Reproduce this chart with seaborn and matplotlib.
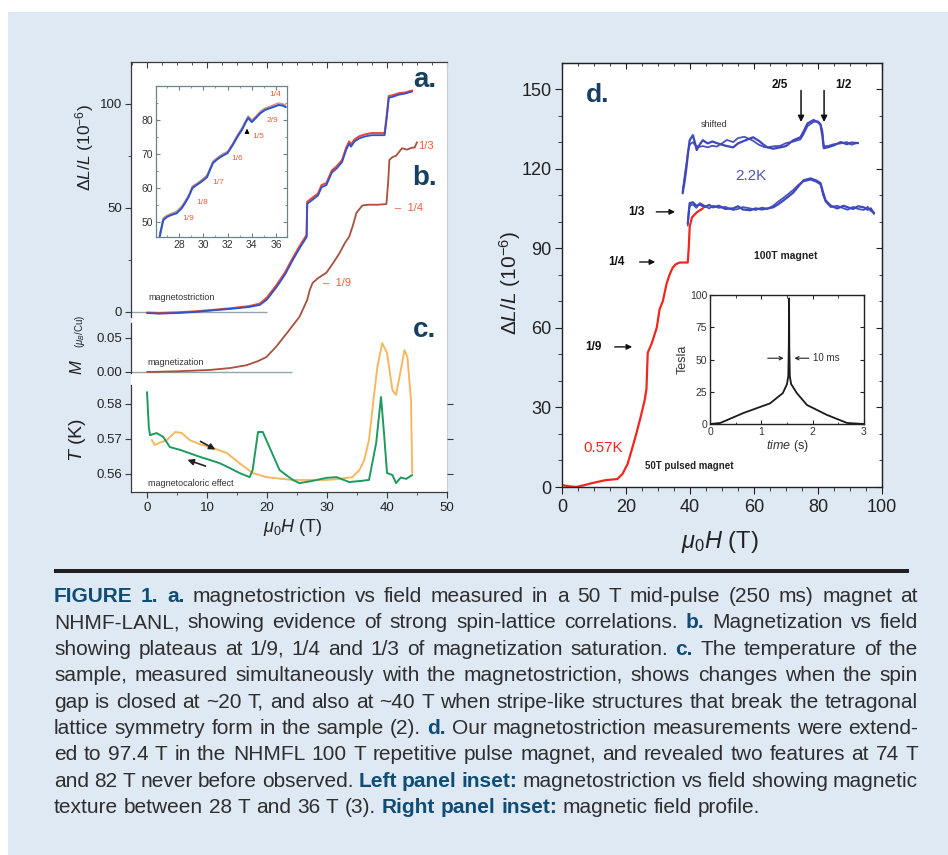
import matplotlib
matplotlib.use("Agg")
import matplotlib.pyplot as plt
import matplotlib.ticker as mticker
from matplotlib.patches import Rectangle
import seaborn as sns

# ---------------- data ----------------
# panel a: magnetostriction dL/L (1e-6) vs field (T), two sweeps
a_field = [0, 2, 5, 8, 11, 14, 17, 18.8, 20, 21.6, 23, 24.3, 25.5, 26.6, 26.7, 27.6, 28.5,
           29.1, 29.9, 30.8, 31.6, 32.5, 33.2, 33.7, 34.0, 34.6, 35.4, 36.5, 37.5, 38.7,
           39.6, 39.9, 40.3, 40.9, 42.0, 43.0, 44.2]
a_up = [-0.5, -0.8, -0.5, 0.0, 0.8, 1.5, 2.4, 3.4, 6, 12, 18, 25, 31, 36, 52, 54, 56,
        60, 61, 67, 69, 72, 78, 81, 79.5, 82, 83.5, 84.5, 85, 85, 85, 92, 103, 103.4,
        104.5, 105, 106]
a_down = [-0.3, -0.5, -0.2, 0.3, 1.0, 1.8, 2.8, 4.0, 7, 13, 19, 26, 32, 37, 53, 55, 57,
          61, 62, 68, 70, 73, 79, 82, 80.5, 83, 84.5, 85.5, 86, 86, 86, 93, 103.8, 104.2,
          105.2, 105.5, 106.5]

# panel b: magnetization M (muB/Cu) vs field (T)
b_field = [0, 5, 10.5, 14, 16.6, 18.5, 19.9, 21.5, 23.3, 25.4, 26.7, 27.1, 27.6, 28.5,
           29.9, 31.0, 32.1, 33.0, 33.7, 34.3, 34.9, 35.9, 37.0, 38.5, 39.9, 40.2, 40.4,
           40.9, 41.5, 42.5, 43.3, 44.2, 44.6, 45.0]
b_M = [0, 0.001, 0.003, 0.006, 0.010, 0.016, 0.022, 0.037, 0.057, 0.081, 0.106, 0.120,
       0.131, 0.138, 0.146, 0.160, 0.175, 0.190, 0.199, 0.215, 0.234, 0.245, 0.246,
       0.246, 0.247, 0.280, 0.312, 0.316, 0.318, 0.329, 0.327, 0.330, 0.330, 0.338]

# panel c: sample temperature T (K) vs field (T)
c_up_field = [0.8, 1.3, 2.2, 3.3, 4.7, 5.8, 7.1, 8.8, 10.5, 12, 13.3, 15.4, 17.6, 19.9,
              22, 24.3, 27, 29.9, 32, 34.2, 35.4, 36.2, 37.0, 37.8, 38.4, 39.2, 40.0,
              40.9, 41.5, 42.4, 42.9, 43.4, 44.0, 44.2]
c_up_T = [0.5697, 0.5683, 0.5690, 0.5697, 0.5720, 0.5717, 0.5697, 0.5685, 0.5677,
          0.5668, 0.5660, 0.5631, 0.5603, 0.5591, 0.5587, 0.5583, 0.5583, 0.5583,
          0.5586, 0.5591, 0.5611, 0.5640, 0.5697, 0.5820, 0.5906, 0.5974, 0.5946,
          0.5840, 0.5826, 0.5906, 0.5954, 0.5934, 0.5811, 0.5603]
c_down_field = [0, 0.3, 0.5, 1.6, 2.7, 3.8, 5.5, 7, 8.8, 10.5, 12.1, 13.8, 15.4, 17.1,
                17.6, 18.5, 19.3, 20.4, 22.1, 24.3, 25.4, 27.5, 29.9, 31.6, 33.7, 35.5,
                37.0, 38.2, 39.0, 39.5, 40.0, 40.9, 41.5, 42.3, 43.2, 44.2]
c_down_T = [0.5834, 0.5734, 0.5711, 0.5717, 0.5706, 0.5677, 0.5669, 0.5660, 0.5649,
            0.5640, 0.5631, 0.5617, 0.5603, 0.5591, 0.5611, 0.5720, 0.5720, 0.5677,
            0.5611, 0.5583, 0.5574, 0.5580, 0.5589, 0.5591, 0.5577, 0.5580, 0.5583,
            0.5689, 0.5820, 0.5717, 0.5603, 0.5597, 0.5574, 0.5590, 0.5586, 0.5597]

# left inset: magnetostriction 26-37 T
li_field = [26.4, 26.7, 27.0, 27.3, 27.8, 28.2, 28.5, 28.8, 29.1, 29.4, 29.7, 30.0, 30.3,
            30.8, 31.1, 31.4, 32.0, 32.4, 32.8, 33.2, 33.5, 33.7, 34.0, 34.3, 34.7, 35.1,
            35.5, 35.9, 36.2, 36.5, 36.8]
li_up = [45.6, 50.6, 51.5, 52.0, 52.6, 54.0, 55.6, 57.5, 60.0, 60.8, 61.5, 62.3, 63.2,
         67.4, 68.3, 69.1, 70.3, 72.5, 75.0, 77.2, 79.4, 80.6, 79.4, 80.5, 82.0, 83.0,
         83.5, 84.0, 84.4, 84.3, 83.8]
li_down = [46.5, 51.2, 52.0, 52.4, 53.2, 54.6, 56.2, 58.0, 60.6, 61.2, 62.0, 62.8, 63.8,
           67.9, 68.8, 69.6, 70.8, 73.0, 75.6, 77.8, 79.9, 81.2, 80.0, 81.0, 82.6, 83.5,
           84.0, 84.6, 85.0, 84.8, 84.4]

# panel d: 0.57 K, 50 T pulsed magnet
d_red_field = [0, 2, 4.4, 7, 9.5, 13.7, 17.3, 18.9, 20.5, 21.8, 23.2, 24.5, 25.8, 26.4,
               26.6, 26.8, 28, 29.6, 30.5, 31.5, 32.7, 33.6, 34.6, 35.6, 36.8, 38, 39.3,
               39.6, 39.9, 40.6, 42.1, 44]
d_red = [0.7, 0.3, 0, 0.7, 1.5, 2.6, 3.0, 4.9, 8.7, 14, 20, 26, 32.5, 37, 44, 50.6, 54,
         60, 67, 70, 76.7, 80, 82.7, 84, 84.6, 84.6, 84.6, 90, 98, 101.6, 103.5, 105]
# panel d: 2.2 K, 100 T magnet (two sweeps)
d_blue_field = [39.3, 39.6, 39.9, 40.9, 42, 43.1, 44.5, 46, 47.2, 49, 51, 53.5, 55, 56.5,
                58.8, 60.5, 62.5, 64.2, 66, 67.5, 69.2, 70.8, 72.3, 74, 75.5, 77.7, 79.5,
                80.8, 81.6, 82.4, 84, 86, 88, 89.3, 91, 92.5, 94.3, 95.5, 96.5, 97.5]
d_blue_up = [99.3, 103, 107, 107.3, 106, 106.5, 105.5, 106.3, 105.4, 106, 104.8, 105,
             105.8, 104.6, 104.3, 105, 104.6, 105, 105.4, 106.5, 108, 109.5, 111, 113.5,
             115.6, 116.3, 115.5, 114.5, 111, 108, 106, 105, 106, 105.4, 104.8, 105.8,
             105.4, 104.5, 105, 103]
d_blue_down = [98.5, 104, 106, 106.5, 105.2, 107, 106, 105, 106, 105.2, 105.6, 104.4,
               104.8, 105.5, 105, 104.4, 105.3, 104.8, 106, 107.5, 109, 110.5, 112, 114,
               115.2, 115.8, 115, 114, 110, 107.5, 105.5, 106, 105, 104.5, 105.6, 104.8,
               104.4, 105.6, 104, 103.5]
# panel d: shifted copy of the 2.2 K sweeps
d_shift_field = [37.7, 38.3, 38.9, 39.4, 39.9, 40.9, 41.5, 42.1, 43, 44, 45.5, 47, 48.4,
                 50, 51.5, 53.5, 55, 57, 59.7, 61.5, 63, 64.2, 66, 68.2, 70, 72.3, 74.5,
                 75.5, 76.7, 78.6, 80, 80.8, 81.4, 81.8, 83, 85, 87.1, 89, 90.5, 92.5]
d_shift_up = [110.7, 115, 120.5, 126, 130.7, 132.6, 130, 127, 129, 130.7, 129.5, 130.2,
              129.6, 129, 128.5, 128, 129.5, 130.5, 131.8, 130.5, 129, 128, 127.5, 128,
              128.5, 130.7, 131.8, 134, 137, 138.3, 137.5, 136.4, 132, 127.7, 128, 128.8,
              130, 129.2, 129.8, 129.6]
d_shift_down = [111.5, 117, 122, 126.5, 129, 130, 129, 128.5, 128.2, 128.5, 128, 128.6,
                128.3, 129.5, 130.8, 130, 131.5, 132, 130.5, 129, 128.2, 128, 128.4,
                128.6, 129.6, 130.2, 131, 133, 136, 137.6, 137.8, 136.8, 134, 128.5,
                128.5, 129.2, 129.5, 130, 129, 129.8]

# right inset: 100 T pulse profile
pulse_t = [0, 0.2, 0.65, 1.17, 1.42, 1.50, 1.525, 1.535, 1.54, 1.545, 1.555, 1.58, 1.69,
           1.89, 2.28, 2.67, 3.0]
pulse_B = [0, 0.8, 8.5, 16, 24, 31, 37, 60, 97.4, 60, 37, 31, 24, 14.7, 7, 0.8, 0]

left_x_ticks = [0, 10, 20, 30, 40, 50]
a_ticks = [0, 50, 100]
m_ticks = [0.00, 0.05]
t_ticks = [0.56, 0.57, 0.58]
d_x_ticks = [0, 20, 40, 60, 80, 100]
d_y_ticks = [0, 30, 60, 90, 120, 150]
li_x_ticks = [28, 30, 32, 34, 36]
li_y_ticks = [50, 60, 70, 80]
ri_x_ticks = [0, 1, 2, 3]
ri_y_ticks = [0, 25, 50, 75, 100]

caption_lines = [
    [("FIGURE  1. a.", True), (" magnetostriction vs field measured in a 50 T mid-pulse (250 ms) magnet at", False)],
    [("NHMF-LANL, showing evidence of strong spin-lattice correlations. ", False), ("b.", True), (" Magnetization vs field", False)],
    [("showing plateaus at 1/9, 1/4 and 1/3 of magnetization saturation. ", False), ("c.", True), (" The temperature of the", False)],
    [("sample, measured simultaneously with the magnetostriction, shows changes when the spin", False)],
    [("gap is closed at ~20 T, and also at ~40 T when stripe-like structures that break the tetragonal", False)],
    [("lattice symmetry form in the sample (2). ", False), ("d.", True), (" Our magnetostriction measurements were extend-", False)],
    [("ed to 97.4 T in the NHMFL 100 T repetitive pulse magnet, and revealed two features at 74 T", False)],
    [("and 82 T never before observed. ", False), ("Left panel inset:", True), (" magnetostriction vs field showing magnetic", False)],
    [("texture between 28 T and 36 T (3). ", False), ("Right panel inset:", True), (" magnetic field profile.", False)],
]

# ---------------- style ----------------
sns.set_style("ticks")
plt.rcParams['font.family'] = ['Liberation Sans', 'DejaVu Sans']
plt.rcParams['mathtext.fontset'] = 'custom'
plt.rcParams['mathtext.rm'] = 'Liberation Sans'
plt.rcParams['mathtext.it'] = 'Liberation Sans:italic'
plt.rcParams['mathtext.bf'] = 'Liberation Sans:bold'

W, H = 948, 855
BG = '#dfe9f4'
NAVY = '#173f5f'
CAP_BOLD = '#0f4d76'
CAP_TEXT = '#2e2e2e'
RED_LBL = '#e8603f'

fig = plt.figure(figsize=(W / 100, H / 100), dpi=100)
fig.patch.set_facecolor('white')
fig.add_artist(Rectangle((8 / W, 0), 1 - 8 / W, 1 - 12 / H, transform=fig.transFigure,
                         facecolor=BG, edgecolor='none', zorder=-10))


def box(x0, y0, x1, y1):
    return [x0 / W, 1 - y1 / H, (x1 - x0) / W, (y1 - y0) / H]


def ftext(px, py, s, **kw):
    kw.setdefault('ha', 'center')
    kw.setdefault('va', 'center')
    return fig.text(px / W, 1 - py / H, s, **kw)


def line(ax, x, y, color, lw, **kw):
    sns.lineplot(x=x, y=y, ax=ax, color=color, lw=lw, sort=False, estimator=None, **kw)


# ---------------- left panel (a, b, c) ----------------
LB = box(131, 62, 447, 492)
axA = fig.add_axes(LB, zorder=1)
axA.set_facecolor('white')
axM = fig.add_axes(LB, zorder=2)
axM.set_facecolor('none')
axT = fig.add_axes(LB, zorder=3)
axT.set_facecolor('none')
XL = (-2.67, 50)

line(axA, a_field, a_down, '#e8483a', 1.5)
line(axA, a_field, a_up, '#3252cc', 1.3)
axA.hlines(0, XL[0], 20, color='#93a6aa', lw=1.0, zorder=0)
line(axM, b_field, b_M, '#a9503e', 1.3)
axM.hlines(0, XL[0], 24.2, color='#93a6aa', lw=1.0, zorder=0)
line(axT, c_up_field, c_up_T, '#f5b860', 1.4)
line(axT, c_down_field, c_down_T, '#1f9a5e', 1.4)

for ax in (axA, axM, axT):
    ax.set_xlim(*XL)
    ax.set_xlabel('')
    ax.set_ylabel('')
axA.set_ylim(-86.54, 120.19)
axM.set_ylim(-0.1765, 0.4559)
axT.set_ylim(0.554857, 0.677714)

SPC = '#3a3a3a'
LTS = 9.5
# axA
axA.spines['bottom'].set_visible(False)
axA.spines['left'].set_bounds(-2.4, 120.19)
axA.spines['right'].set_color('#c9cfd2')
for s in ('left', 'top'):
    axA.spines[s].set_color(SPC)
    axA.spines[s].set_linewidth(0.9)
axA.set_yticks(a_ticks)
axA.yaxis.set_minor_locator(mticker.FixedLocator([25, 75]))
axA.xaxis.set_major_locator(mticker.MultipleLocator(10))
axA.xaxis.set_minor_locator(mticker.MultipleLocator(2.5))
axA.tick_params(axis='x', which='both', bottom=False, labelbottom=False, top=True,
                direction='in', color=SPC)
axA.tick_params(axis='x', which='major', length=4)
axA.tick_params(axis='x', which='minor', length=2.5)
axA.tick_params(axis='y', which='both', left=True, right=False, direction='out',
                labelsize=LTS, color=SPC, labelcolor='#222', pad=2.5)
axA.tick_params(axis='y', which='major', length=4)
axA.tick_params(axis='y', which='minor', length=2.5)
# axM
for s in ('bottom', 'top', 'right'):
    axM.spines[s].set_visible(False)
axM.spines['left'].set_bounds(-0.0015, 0.072)
axM.spines['left'].set_color(SPC)
axM.spines['left'].set_linewidth(0.9)
axM.set_yticks(m_ticks)
axM.yaxis.set_major_formatter(mticker.FormatStrFormatter('%.2f'))
axM.tick_params(axis='x', which='both', bottom=False, labelbottom=False)
axM.tick_params(axis='y', direction='out', length=4, labelsize=LTS, color=SPC,
                labelcolor='#222', pad=2.5)
# axT
axT.spines['top'].set_visible(False)
axT.spines['right'].set_visible(False)
axT.spines['left'].set_bounds(0.554857, 0.5854)
for s in ('left', 'bottom'):
    axT.spines[s].set_color(SPC)
    axT.spines[s].set_linewidth(0.9)
axT.set_yticks(t_ticks)
axT.yaxis.set_major_formatter(mticker.FormatStrFormatter('%.2f'))
axT.set_xticks(left_x_ticks)
axT.xaxis.set_minor_locator(mticker.MultipleLocator(5))
axT.tick_params(axis='y', direction='out', length=4, labelsize=LTS, right=True,
                color=SPC, labelcolor='#222', pad=2.5)
axT.tick_params(axis='x', which='both', direction='out', labelsize=LTS, color=SPC, labelcolor='#222')
axT.tick_params(axis='x', which='major', length=4)
axT.tick_params(axis='x', which='minor', length=2.5)

# left inset
axL = fig.add_axes(box(156, 86, 287, 237), zorder=5)
axL.set_facecolor('white')
line(axL, li_field, li_down, '#d98a80', 1.0)
line(axL, li_field, li_up, '#2f55c8', 1.5)
axL.set_xlim(26.1, 36.9)
axL.set_ylim(45.6, 90)
axL.set_xlabel('')
axL.set_ylabel('')
axL.set_xticks(li_x_ticks)
axL.set_yticks(li_y_ticks)
axL.xaxis.set_minor_locator(mticker.MultipleLocator(1))
axL.yaxis.set_minor_locator(mticker.MultipleLocator(5))
axL.tick_params(which='both', direction='in', top=True, right=True, labelsize=7.5,
                color='#6a8585', labelcolor='#333', pad=2)
axL.tick_params(which='major', length=3)
axL.tick_params(which='minor', length=1.5)
for s in axL.spines.values():
    s.set_color('#6a8585')
    s.set_linewidth(0.9)
for lbl, px, py in [("1/9", 188, 219), ("1/8", 202, 202), ("1/7", 218, 183), ("1/6", 237, 158),
                    ("1/5", 258, 137), ("2/9", 272, 121), ("1/4", 275, 94)]:
    ftext(px, py, lbl, fontsize=6, color=RED_LBL, zorder=10)
axL.annotate('', xy=(33.6, 78.3), xytext=(33.6, 75.2),
             arrowprops=dict(arrowstyle='-|>', color='black', lw=0.9, mutation_scale=6))

# left panel texts
ftext(425, 80, "a.", fontsize=20, fontweight='bold', color=NAVY)
ftext(425, 178, "b.", fontsize=20, fontweight='bold', color=NAVY)
ftext(425, 330, "c.", fontsize=20, fontweight='bold', color=NAVY)
ftext(148, 297, "magnetostriction", fontsize=6.5, ha='left', color='#333', zorder=10)
ftext(147, 362, "magnetization", fontsize=6.5, ha='left', color='#333', zorder=10)
ftext(148, 484, "magnetocaloric effect", fontsize=6.5, ha='left', color='#333', zorder=10)
ftext(418, 146, "1/3", fontsize=8, ha='left', color=RED_LBL, zorder=10)
ftext(395, 208, "–  1/4", fontsize=8, ha='left', color=RED_LBL, zorder=10)
ftext(323, 283, "–  1/9", fontsize=8, ha='left', color=RED_LBL, zorder=10)
axT.annotate('', xy=(11.8, 0.5666), xytext=(8.5, 0.5697),
             arrowprops=dict(arrowstyle='-|>', color='#222', lw=1.2, mutation_scale=9))
axT.annotate('', xy=(6.3, 0.5643), xytext=(10.2, 0.5620),
             arrowprops=dict(arrowstyle='-|>', color='#222', lw=1.2, mutation_scale=9))

ftext(85, 148, r"$\mathit{\Delta L/L}$ (10$^{-6}$)", rotation=90, fontsize=12.5, color='#222')
ftext(77, 367, r"$M$", rotation=90, fontsize=12, color='#222')
ftext(80, 331, r"($\mu_B$/Cu)", rotation=90, fontsize=7, color='#222')
ftext(77, 440, r"$T$ (K)", rotation=90, fontsize=14, color='#222')
ftext(293, 527, r"$\mu_0H$ (T)", fontsize=13, color='#222')

# ---------------- right panel (d) ----------------
axD = fig.add_axes(box(562, 63, 882, 487), zorder=1)
axD.set_facecolor('white')
line(axD, d_shift_field, d_shift_down, '#4a53c2', 1.3)
line(axD, d_shift_field, d_shift_up, '#3f48bb', 1.6)
line(axD, d_blue_field, d_blue_down, '#4a53c2', 1.3)
line(axD, d_blue_field, d_blue_up, '#3f48bb', 1.6)
line(axD, d_red_field, d_red, '#f0281c', 1.6)
axD.set_xlim(0, 100)
axD.set_ylim(0, 159.8)
axD.set_xlabel('')
axD.set_ylabel('')
axD.set_xticks(d_x_ticks)
axD.set_yticks(d_y_ticks)
axD.xaxis.set_minor_locator(mticker.MultipleLocator(5))
axD.yaxis.set_minor_locator(mticker.MultipleLocator(10))
axD.tick_params(which='both', direction='out', labelsize=13, color='#222', labelcolor='#222')
axD.tick_params(which='major', length=5)
axD.tick_params(which='minor', length=3)
axD.tick_params(axis='y', pad=2.5)
for s in axD.spines.values():
    s.set_color('#222')
    s.set_linewidth(1.0)
secx = axD.secondary_xaxis('top')
secx.set_xticks(d_x_ticks)
secx.xaxis.set_minor_locator(mticker.MultipleLocator(5))
secx.tick_params(which='both', direction='in', labeltop=False, color='#222')
secx.tick_params(which='major', length=4)
secx.tick_params(which='minor', length=2.5)
secy = axD.secondary_yaxis('right')
secy.set_yticks(d_y_ticks)
secy.yaxis.set_minor_locator(mticker.MultipleLocator(10))
secy.tick_params(which='both', direction='in', labelright=False, color='#222')
secy.tick_params(which='major', length=4)
secy.tick_params(which='minor', length=2.5)

axD.text(11.2, 147.8, "d.", fontsize=19, fontweight='bold', color=NAVY, ha='center', va='center')
axD.text(47.5, 136.8, "shifted", fontsize=6.5, color='#333', ha='center', va='center')
axD.text(59, 117.2, "2.2K", fontsize=11, color='#5055b8', ha='center', va='center')
axD.text(68.1, 151.5, "2/5", fontsize=8.5, fontweight='bold', color='#111', ha='center', va='center')
axD.text(87.8, 151.5, "1/2", fontsize=8.5, fontweight='bold', color='#111', ha='center', va='center')
for hx in (74.7, 81.9):
    axD.annotate('', xy=(hx, 136.5), xytext=(hx, 150.5),
                 arrowprops=dict(arrowstyle='-|>', color='#111', lw=1.1, mutation_scale=9))
for lbl, tx, ty, x0, x1 in [("1/3", 23.4, 103.7, 28.6, 36.2), ("1/4", 16.9, 84.8, 23.4, 30.0),
                            ("1/9", 9.7, 52.8, 15.6, 22.8)]:
    axD.text(tx, ty, lbl, fontsize=8.5, fontweight='bold', color='#111', ha='center', va='center')
    axD.annotate('', xy=(x1, ty), xytext=(x0, ty),
                 arrowprops=dict(arrowstyle='-|>', color='#111', lw=1.0, mutation_scale=8))
axD.text(70, 87, "100T magnet", fontsize=7.5, fontweight='bold', color='#222', ha='center', va='center')
axD.text(12.8, 14.7, "0.57K", fontsize=11, color='#f0281c', ha='center', va='center')
axD.text(39.7, 7.9, "50T pulsed magnet", fontsize=7, fontweight='bold', color='#222', ha='center', va='center')

ftext(720, 542, r"$\mu_0H$ (T)", fontsize=17, color='#222')
ftext(510, 283, r"$\mathit{\Delta L/L}$ (10$^{-6}$)", rotation=90, fontsize=15, color='#222')

# right inset
axI = fig.add_axes(box(710, 295, 864, 424), zorder=5)
axI.set_facecolor('white')
line(axI, pulse_t, pulse_B, '#1a1a1a', 1.3)
axI.set_xlim(0, 3)
axI.set_ylim(0, 100)
axI.set_xticks(ri_x_ticks)
axI.set_yticks(ri_y_ticks)
axI.xaxis.set_minor_locator(mticker.MultipleLocator(0.5))
axI.tick_params(which='both', direction='in', top=True, right=True, labelsize=7.5,
                color='#222', labelcolor='#333', pad=2)
axI.tick_params(which='major', length=3)
axI.tick_params(which='minor', length=1.8)
for s in axI.spines.values():
    s.set_color('#222')
    s.set_linewidth(1.0)
axI.set_xlabel(r"$time$ (s)", fontsize=9, labelpad=1, color='#333')
axI.set_ylabel("Tesla", fontsize=9, labelpad=1, color='#333')
axI.annotate('', xy=(1.49, 51), xytext=(1.07, 51),
             arrowprops=dict(arrowstyle='->', color='#222', lw=0.8, mutation_scale=6))
axI.annotate('', xy=(1.59, 51), xytext=(1.98, 51),
             arrowprops=dict(arrowstyle='->', color='#222', lw=0.8, mutation_scale=6))
axI.text(2.0, 51, "10 ms", fontsize=7, color='#333', ha='left', va='center')

# ---------------- separator and caption ----------------
fig.add_artist(Rectangle((54 / W, 1 - 573 / H), (909 - 54) / W, 4 / H, transform=fig.transFigure,
                         facecolor='#231f20', edgecolor='none'))

renderer = fig.canvas.get_renderer()
CAP_FONT = ['Liberation Sans', 'DejaVu Sans']


def measure(s, fs, bold):
    t = fig.text(0, 0, s, fontsize=fs, fontweight='bold' if bold else 'normal', family=CAP_FONT)
    w = t.get_window_extent(renderer).width
    t.remove()
    return w


def words_of(segs):
    out = []
    for txt, b in segs:
        for wd in txt.split():
            out.append((wd, b))
    return out


fs0 = 14.0
space0 = measure("a a", fs0, False) - measure("aa", fs0, False)
last = words_of(caption_lines[-1])
nat = sum(measure(w, fs0, b) for w, b in last) + space0 * (len(last) - 1)
CAP_FS = fs0 * (761 - 54) / nat
space = space0 * CAP_FS / fs0

CAP_L, CAP_R = 54, 918
for i, segs in enumerate(caption_lines):
    wl = words_of(segs)
    widths = [measure(w, CAP_FS, b) for w, b in wl]
    if i < len(caption_lines) - 1 and len(wl) > 1:
        gap = (CAP_R - CAP_L - sum(widths)) / (len(wl) - 1)
    else:
        gap = space
    x = CAP_L
    yb = 602 + 26.4 * i
    for (w, b), ww in zip(wl, widths):
        fig.text(x / W, 1 - yb / H, w, fontsize=CAP_FS, family=CAP_FONT,
                 fontweight='bold' if b else 'normal', color=CAP_BOLD if b else CAP_TEXT,
                 ha='left', va='baseline')
        x += ww + gap

fig.savefig("out.png", dpi=100, facecolor=fig.get_facecolor())
